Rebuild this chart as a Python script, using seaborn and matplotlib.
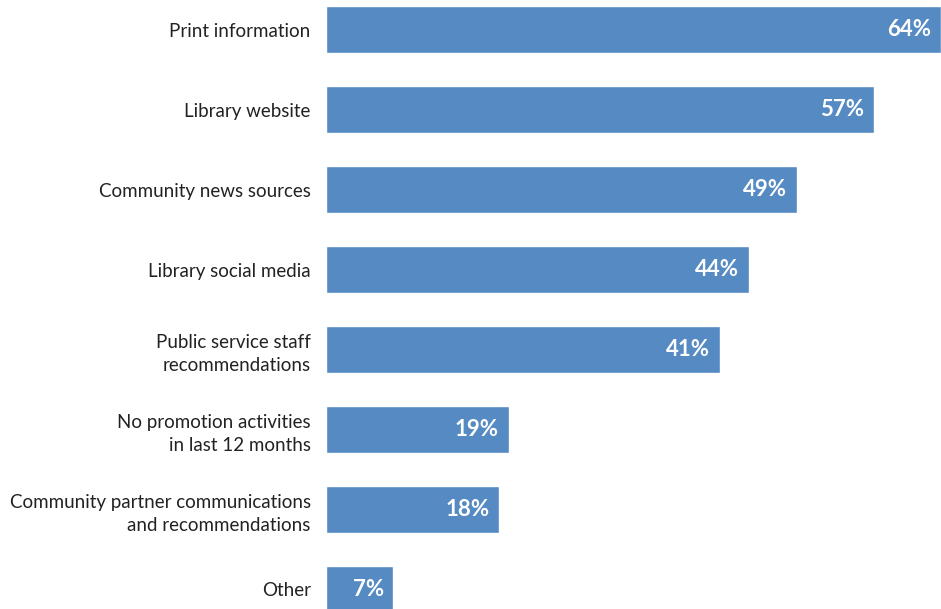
import matplotlib
matplotlib.use("Agg")
import matplotlib.pyplot as plt
import seaborn as sns
import pandas as pd

# 数据
categories = [
    "Print information",
    "Library website",
    "Community news sources",
    "Library social media",
    "Public service staff\nrecommendations",
    "No promotion activities\nin last 12 months",
    "Community partner communications\nand recommendations",
    "Other",
]
values = [64, 57, 49, 44, 41, 19, 18, 7]

df = pd.DataFrame({"category": categories, "value": values})

sns.set_theme(style="white")
plt.rcParams['font.family'] = ['Lato', 'DejaVu Sans']

fig = plt.figure(figsize=(9.41, 6.09), dpi=100)
ax = fig.add_axes([326 / 941, 0, 1 - 326 / 941, 1])

sns.barplot(data=df, x="value", y="category", color="#558AC2", saturation=1,
            width=0.59, ax=ax)

ax.set_xlim(0, 64)
ax.set_ylim(7.244, -0.369)

# 数值标签
for i, v in enumerate(values):
    ax.text(v - 1.0, i, f"{v}%", ha="right", va="center", color="white",
            fontsize=16, fontweight="bold")

ax.set_xlabel("")
ax.set_ylabel("")
ax.set_xticks([])
ax.tick_params(axis="y", length=0, pad=11, labelsize=13.5, labelcolor="#222222")
for lbl in ax.get_yticklabels():
    lbl.set_horizontalalignment("right")
    lbl.set_multialignment("right")
    lbl.set_linespacing(1.45)
sns.despine(ax=ax, left=True, bottom=True)

fig.savefig("out.png", dpi=100)
